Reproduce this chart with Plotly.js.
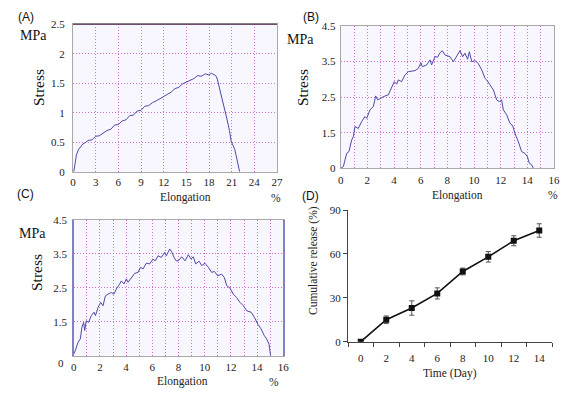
<!DOCTYPE html>
<html><head><meta charset="utf-8">
<script src="https://cdn.plot.ly/plotly-3.0.1.min.js"></script>
<style>html,body{margin:0;padding:0;background:#fff}#chart{width:576px;height:395px}</style>
</head><body><div id="chart"></div>
<script>
// Panel A: elongation (%) vs stress (MPa)
const aElong = [0.1,0.25,0.45,0.7,1.0,1.3,1.6,2.0,2.5,3.0,3.5,4.0,4.5,5.0,5.5,6.0,6.5,7.0,7.5,8.0,8.5,9.0,9.5,10.0,10.5,11.0,11.5,12.0,12.5,13.0,13.5,14.0,14.5,15.0,15.5,16.0,16.5,17.0,17.5,18.0,18.3,18.6,18.9,19.1,19.4,19.7,20.0,20.4,20.7,20.95,21.2,21.4,21.6,21.9,22.05];
const aStress = [0,0.15,0.28,0.37,0.43,0.47,0.49,0.53,0.54,0.60,0.61,0.66,0.70,0.72,0.79,0.80,0.86,0.88,0.95,0.96,1.03,1.04,1.11,1.12,1.17,1.20,1.24,1.28,1.32,1.35,1.41,1.43,1.49,1.52,1.56,1.58,1.63,1.62,1.66,1.64,1.67,1.65,1.63,1.57,1.42,1.27,1.10,0.88,0.70,0.51,0.44,0.38,0.27,0.09,0];
const aXTicks = [0,3,6,9,12,15,18,21,24,27];
const aYTicks = [0,0.5,1,1.5,2,2.5];
const aYText = ['0','0.5','1','1.5','2','2.5'];

// Panel B
const bElong = [0,0.2,0.32,0.45,0.62,0.82,0.95,1.07,1.32,1.57,1.82,1.95,2.2,2.45,2.62,2.77,2.95,3.2,3.57,3.82,4.02,4.2,4.32,4.57,4.82,5.07,5.57,5.82,6.02,6.12,6.45,6.7,6.82,7.07,7.27,7.45,7.62,7.82,8.2,8.45,8.7,8.95,9.15,9.32,9.52,9.65,9.83,10.08,10.32,10.58,10.83,10.95,11.2,11.45,11.7,11.9,12.07,12.2,12.45,12.7,12.9,13.07,13.32,13.57,13.82,14.0,14.15,14.32,14.45];
const bStress = [0.5,0.55,0.73,0.92,0.97,1.29,1.39,1.67,1.62,1.81,1.95,1.9,2.14,2.23,2.53,2.42,2.45,2.51,2.56,2.79,2.93,2.86,2.98,2.93,3.12,3.21,3.24,3.3,3.46,3.35,3.4,3.54,3.4,3.63,3.62,3.74,3.8,3.68,3.63,3.49,3.63,3.8,3.63,3.73,3.56,3.77,3.49,3.52,3.44,3.26,3.02,2.98,2.84,2.7,2.42,2.37,2.42,2.14,2.0,1.76,1.7,1.48,1.25,0.97,0.92,0.83,0.64,0.6,0.5];

// Panel C
const cElong = [0,0.12,0.33,0.5,0.63,0.76,0.84,0.96,1.13,1.35,1.55,1.66,1.86,2.06,2.24,2.42,2.62,2.87,3.07,3.25,3.51,3.64,3.84,4.02,4.15,4.4,4.65,4.91,5.11,5.29,5.54,5.8,6.05,6.23,6.44,6.69,6.95,7.07,7.33,7.5,7.66,7.83,7.99,8.24,8.5,8.75,8.96,9.13,9.31,9.57,9.77,10.02,10.28,10.53,10.74,10.99,11.29,11.5,11.68,11.93,12.18,12.44,12.69,12.95,13.21,13.54,13.79,14.05,14.3,14.55,14.73,14.91,14.98,15.03];
const cStress = [0.55,0.65,0.89,0.99,1.34,1.48,1.24,1.53,1.48,1.68,1.78,1.68,1.92,2.07,1.97,2.26,2.31,2.36,2.31,2.46,2.61,2.7,2.61,2.76,2.66,2.8,2.92,2.95,3.1,3.05,3.22,3.2,3.34,3.29,3.44,3.39,3.54,3.44,3.64,3.54,3.39,3.29,3.29,3.41,3.29,3.47,3.34,3.41,3.2,3.28,3.15,3.22,3.1,2.95,2.98,2.85,2.9,2.8,2.56,2.49,2.31,2.21,2.07,1.97,1.82,1.78,1.63,1.43,1.29,1.09,0.99,0.84,0.65,0.5];

const bcXTicks = [0,1,2,3,4,5,6,7,8,9,10,11,12,13,14,15,16];
const bcXText = ['0','','2','','4','','6','','8','','10','','12','','14','','16'];
const bYTicks = [0.5,1.5,2.5,3.5,4.5];
const bYText = ['0','1.5','2.5','3.5','4.5'];
const cYText = ['','1.5','2.5','3.5','4.5'];

// Panel D: cumulative release
const dDays = [0,2,4,6,8,10,12,14];
const dRelease = [0,15,23,33,48,58,69,76];
const dErr = [0.5,2.6,4.9,3.8,2.3,3.6,3.4,4.6];
const dXTicks = [0,2,4,6,8,10,12,14];
const dMinorTicks = [-1,1,3,5,7,9,11,13,15];
const dYTicks = [0,30,60,90];

const serif = "'Liberation Serif', 'Times New Roman', serif";
const sans = "'Liberation Sans', Arial, sans-serif";
const gridCol = '#d070d0';
const frameCol = '#a9a9a9';
const curveCol = '#4a4aa6';
const bgCol = '#f8f7ff';
const W = 576, H = 395;
const px = v => v / W, py = v => 1 - v / H;

const curve = {type:'scatter', mode:'lines', line:{color:curveCol, width:1}, hoverinfo:'skip'};
const traces = [
  Object.assign({}, curve, {x:aElong, y:aStress, xaxis:'x', yaxis:'y'}),
  Object.assign({}, curve, {x:bElong, y:bStress, xaxis:'x2', yaxis:'y2'}),
  Object.assign({}, curve, {x:cElong, y:cStress, xaxis:'x3', yaxis:'y3'}),
  {type:'scatter', mode:'lines+markers', x:dDays, y:dRelease, xaxis:'x4', yaxis:'y4',
   line:{color:'#111', width:1.6}, marker:{symbol:'square', size:6, color:'#111'},
   error_y:{type:'data', array:dErr, visible:true, color:'#555', thickness:1, width:2.5}}
];

const tf = {family:serif, size:11, color:'#222'};
function gridAxis(extra){
  return Object.assign({showgrid:true, gridcolor:gridCol, griddash:'1px,2px', gridwidth:1,
    showline:true, mirror:true, linecolor:frameCol, linewidth:1, zeroline:false,
    ticks:'outside', ticklen:1, tickcolor:'rgba(0,0,0,0)', tickfont:tf, fixedrange:true}, extra);
}

const layout = {
  width:W, height:H, margin:{l:0,r:0,t:0,b:0}, paper_bgcolor:'#fff', plot_bgcolor:'rgba(0,0,0,0)',
  showlegend:false,
  xaxis: gridAxis({domain:[px(73),px(277)], anchor:'y', range:[0,27], tickmode:'array', tickvals:aXTicks, ticklen:0.5}),
  yaxis: gridAxis({domain:[py(171.7),py(24.3)], anchor:'x', range:[0,2.5], tickmode:'array', tickvals:aYTicks, ticktext:aYText, ticklen:5}),
  xaxis2: gridAxis({domain:[px(340.7),px(554)], anchor:'y2', range:[0,16], tickmode:'array', tickvals:bcXTicks, ticktext:bcXText, ticklen:1}),
  yaxis2: gridAxis({domain:[py(168.3),py(25.7)], anchor:'x2', range:[0.5,4.5], tickmode:'array', tickvals:bYTicks, ticktext:bYText, ticklen:2}),
  xaxis3: gridAxis({domain:[px(73.7),px(283.3)], anchor:'y3', range:[0,16], tickmode:'array', tickvals:bcXTicks, ticktext:bcXText, ticklen:1}),
  yaxis3: gridAxis({domain:[py(355.7),py(219.7)], anchor:'x3', range:[0.5,4.5], tickmode:'array', tickvals:bYTicks, ticktext:cYText, ticklen:3, linecolor:'#8080c4', linewidth:1.5}),
  xaxis4: {domain:[px(348),px(552)], anchor:'y4', range:[-1,15], tickmode:'array', tickvals:dXTicks,
    showgrid:false, zeroline:false, showline:true, linecolor:'#444', linewidth:1, ticks:'outside', ticklen:6, tickcolor:'rgba(0,0,0,0)',
    minor:{tickmode:'array', tickvals:dMinorTicks, ticks:'outside', ticklen:4, tickcolor:'#444', showgrid:false},
    tickfont:tf, fixedrange:true},
  yaxis4: {domain:[py(341.7),py(210)], anchor:'x4', range:[0,90], tickmode:'array', tickvals:dYTicks,
    showgrid:false, zeroline:false, showline:true, linecolor:'#444', linewidth:1, ticks:'outside', ticklen:4, tickcolor:'#444',
    tickfont:tf, fixedrange:true},
  shapes: [
    {type:'rect', xref:'x domain', yref:'y domain', x0:0, x1:1, y0:0, y1:1, fillcolor:bgCol, line:{width:0}, layer:'below'},
    {type:'rect', xref:'x2 domain', yref:'y2 domain', x0:0, x1:1, y0:0, y1:1, fillcolor:bgCol, line:{width:0}, layer:'below'},
    {type:'rect', xref:'x3 domain', yref:'y3 domain', x0:0, x1:1, y0:0, y1:1, fillcolor:bgCol, line:{width:0}, layer:'below'},
    {type:'line', xref:'x domain', yref:'y domain', x0:0, x1:1, y0:1, y1:1, line:{color:'#6e4f6e', width:1.6}, layer:'above'}
  ],
  annotations: []
};

function ann(text, x, y, font, extra){
  layout.annotations.push(Object.assign({text:text, xref:'paper', yref:'paper', x:px(x), y:py(y),
    xanchor:'center', yanchor:'middle', showarrow:false, font:font}, extra||{}));
}
const panelF = {family:sans, size:12, color:'#111'};
const mpaF = {family:serif, size:14, color:'#111'};
const stressF = {family:serif, size:15.5, color:'#111'};
const elF = {family:serif, size:11.5, color:'#222'};

ann('(A)', 25.8, 16.7, panelF);
ann('(B)', 310.5, 16.7, panelF);
ann('(C)', 25.8, 194, panelF);
ann('(D)', 310.5, 196, panelF);
ann('MPa', 33, 35, mpaF);
ann('MPa', 300, 40, mpaF);
ann('MPa', 32, 233, mpaF);
ann('Stress', 39, 88, stressF, {textangle:-90});
ann('Stress', 303, 88, stressF, {textangle:-90});
ann('Stress', 36, 273, stressF, {textangle:-90});
ann('Elongation', 185, 197.5, elF);
ann('Elongation', 457, 195, elF);
ann('Elongation', 182, 381.5, elF);
ann('%', 276, 197.5, elF);
ann('%', 553, 195, elF);
ann('%', 274, 381.5, elF);
ann('0', 61, 363, tf);
ann('Cumulative release (%)', 313, 261, {family:serif, size:11.5, color:'#222'}, {textangle:-90});
ann('Time (Day)', 450, 373, {family:serif, size:11.5, color:'#222'});

Plotly.newPlot('chart', traces, layout, {displayModeBar:false, staticPlot:true});
</script></body></html>
